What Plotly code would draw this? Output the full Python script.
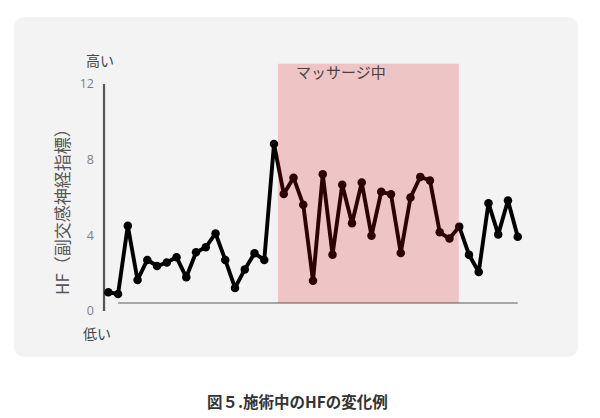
import plotly.graph_objects as go

# ---- data ----
measurement_index = list(range(43))
hf_values = [0.99, 0.9, 4.5, 1.64, 2.7, 2.38, 2.56, 2.84, 1.78, 3.1, 3.37, 4.1, 2.7,
             1.22, 2.2, 3.05, 2.7, 8.83, 6.19, 7.05, 5.62, 1.6, 7.23, 2.98, 6.67, 4.64,
             6.79, 3.98, 6.3, 6.17, 3.07, 6.0, 7.09, 6.9, 4.16, 3.83, 4.46, 2.98, 2.06,
             5.7, 4.05, 5.84, 3.92]
y_tick_vals = [0, 4, 8, 12]
y_tick_text = ["0", "4", "8", "12"]
massage_start = 17.4
massage_end = 35.95
massage_label = "マッサージ中"
y_title = "HF（副交感神経指標）"
high_label = "高い"
low_label = "低い"
caption = "図５.施術中のHFの変化例"

# ---- layout geometry (screen pixels; page body has an 8px margin) ----
OFF = 8
W, H = 592, 410
L, R, T, B = 87, 70, 52, 98
PW, PH = W - L - R, H - T - B
x_px0, x_step = 108.3 - OFF, 9.748
y_px0, y_step = 311.0 - OFF, 18.917
x_range = [-(x_px0 - L) / x_step, -(x_px0 - L) / x_step + PW / x_step]
y_range = [-(T + PH - y_px0) / y_step, (y_px0 - T) / y_step]


def px(xp):
    return (xp - OFF - L) / PW


def py(yp):
    return (T + PH - (yp - OFF)) / PH


JP = "Noto Sans CJK JP"

fig = go.Figure()
fig.add_trace(go.Scatter(
    x=measurement_index, y=hf_values, mode="lines+markers",
    line=dict(color="#000000", width=3.9),
    marker=dict(color="#000000", size=8.5),
    hoverinfo="skip", showlegend=False,
))

# rounded background panel
x0, x1, y0, y1 = px(14), px(578), py(357), py(17)
rx, ry = 12 / PW, 12 / PH
panel_path = (f"M {x0+rx},{y1} L {x1-rx},{y1} Q {x1},{y1} {x1},{y1-ry} "
              f"L {x1},{y0+ry} Q {x1},{y0} {x1-rx},{y0} L {x0+rx},{y0} "
              f"Q {x0},{y0} {x0},{y0+ry} L {x0},{y1-ry} Q {x0},{y1} {x0+rx},{y1} Z")

shapes = [
    dict(type="path", path=panel_path, xref="paper", yref="paper",
         fillcolor="#f3f3f3", line=dict(width=0), layer="below"),
    dict(type="line", xref="x", yref="y", x0=1, x1=42, y0=0.42, y1=0.42,
         line=dict(color="#8c8c8c", width=1.5), layer="below"),
    dict(type="line", xref="x", yref="y", x0=-0.44, x1=-0.44, y0=0, y1=12,
         line=dict(color="#555555", width=2.2), layer="below"),
    dict(type="rect", xref="x", yref="y", x0=massage_start, x1=massage_end,
         y0=0.42, y1=13.07, fillcolor="rgb(225,10,15)", opacity=0.2,
         line=dict(width=0), layer="above"),
]


def ann(text, xp, yp, size, color, angle=0):
    return dict(text=text, x=px(xp), y=py(yp), xref="paper", yref="paper",
                xanchor="center", yanchor="middle", textangle=angle,
                showarrow=False, font=dict(family=JP, size=size, color=color))


annotations = [
    ann(high_label, 100, 60, 14, "#444444"),
    ann(low_label, 97, 333, 14, "#444444"),
    ann(massage_label, 341, 72, 15, "#444444"),
    ann(y_title, 61, 208, 17, "#555555", -90),
    ann("<b>" + caption + "</b>", 297, 401, 15.5, "#333333"),
]

fig.update_layout(
    width=W, height=H,
    margin=dict(l=L, r=R, t=T, b=B, pad=0),
    paper_bgcolor="#ffffff", plot_bgcolor="rgba(0,0,0,0)",
    xaxis=dict(range=x_range, visible=False, fixedrange=True),
    yaxis=dict(range=y_range, tickvals=y_tick_vals, ticktext=y_tick_text,
               showgrid=False, zeroline=False, showline=False,
               tickfont=dict(family="Open Sans", size=12.5, color="#7f7f7f"),
               ticklabelstandoff=0, fixedrange=True),
    shapes=shapes, annotations=annotations,
)

fig.write_html("out.html")
